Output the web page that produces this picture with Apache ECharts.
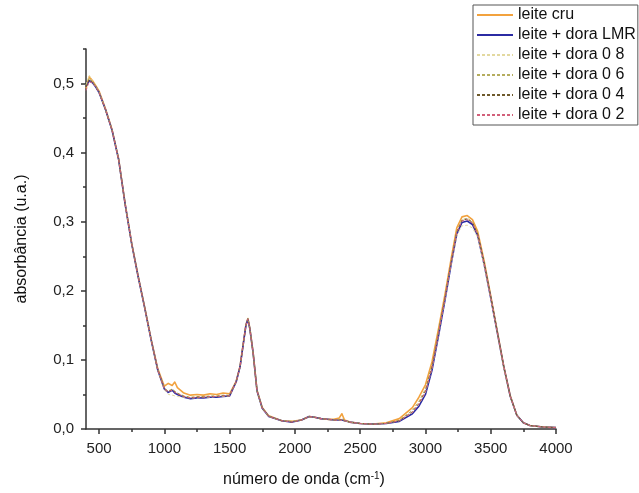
<!DOCTYPE html>
<html>
<head>
<meta charset="utf-8">
<script src="https://cdn.jsdelivr.net/npm/echarts@6/dist/echarts.min.js"></script>
<style>
  html, body { margin: 0; padding: 0; background: #fff; }
  #box { width: 639px; height: 493px; }
</style>
</head>
<body>
<div id="box"></div>
<script>
// número de onda (cm-1)
const aWave = [
    400, 425, 450, 475, 500,
    550, 600, 650, 700, 750, 800, 850, 900, 950,
    1000, 1030, 1060, 1080, 1100,
    1150, 1200, 1250, 1300, 1350, 1400, 1450, 1500,
    1550, 1580, 1610, 1625, 1640, 1655, 1680, 1710, 1750, 1800,
    1900, 1980, 2050, 2110, 2150, 2200, 2250, 2300, 2340, 2360, 2380, 2420,
    2500, 2600, 2700, 2800, 2900, 2950, 3000, 3050, 3100, 3150, 3200, 3240,
    3280, 3320, 3360, 3400, 3450, 3500, 3550, 3600, 3650, 3700, 3750, 3800, 3900, 4000,
];

const aCru = [
    0.493, 0.510, 0.504, 0.497, 0.489,
    0.463, 0.433, 0.391, 0.326, 0.269, 0.221, 0.176, 0.129, 0.087,
    0.062, 0.066, 0.063, 0.068, 0.060,
    0.052, 0.049, 0.050, 0.049, 0.051, 0.050, 0.052, 0.051,
    0.069, 0.091, 0.131, 0.151, 0.160, 0.146, 0.111, 0.056, 0.031, 0.019,
    0.012, 0.011, 0.013, 0.018, 0.017, 0.015, 0.014, 0.014, 0.016, 0.022, 0.013, 0.010,
    0.008, 0.007, 0.009, 0.015, 0.031, 0.046, 0.064, 0.097, 0.145, 0.195, 0.250, 0.291,
    0.307, 0.309, 0.303, 0.286, 0.243, 0.193, 0.142, 0.091, 0.048, 0.020, 0.009, 0.005, 0.003, 0.002,
];
const aLMR = [
    0.496, 0.504, 0.501, 0.495, 0.487,
    0.462, 0.432, 0.390, 0.325, 0.268, 0.220, 0.175, 0.128, 0.085,
    0.058, 0.053, 0.056, 0.052, 0.050,
    0.046, 0.044, 0.045, 0.045, 0.046, 0.046, 0.047, 0.048,
    0.068, 0.090, 0.130, 0.150, 0.159, 0.145, 0.110, 0.055, 0.030, 0.018,
    0.012, 0.010, 0.013, 0.018, 0.017, 0.015, 0.014, 0.013, 0.013, 0.013, 0.012, 0.010,
    0.008, 0.007, 0.008, 0.011, 0.022, 0.033, 0.050, 0.085, 0.135, 0.187, 0.242, 0.282,
    0.299, 0.301, 0.296, 0.280, 0.238, 0.190, 0.140, 0.090, 0.047, 0.020, 0.009, 0.005, 0.003, 0.002,
];
const aDora08 = [
    0.498, 0.512, 0.503, 0.496, 0.488,
    0.462, 0.432, 0.390, 0.325, 0.268, 0.220, 0.175, 0.128, 0.085,
    0.057, 0.050, 0.049, 0.048, 0.047,
    0.046, 0.045, 0.045, 0.046, 0.046, 0.047, 0.047, 0.048,
    0.068, 0.090, 0.130, 0.150, 0.159, 0.145, 0.110, 0.055, 0.030, 0.018,
    0.012, 0.011, 0.013, 0.018, 0.017, 0.015, 0.014, 0.013, 0.013, 0.013, 0.012, 0.010,
    0.008, 0.007, 0.008, 0.012, 0.024, 0.036, 0.053, 0.088, 0.137, 0.188, 0.242, 0.280,
    0.294, 0.295, 0.291, 0.277, 0.236, 0.189, 0.139, 0.089, 0.047, 0.020, 0.009, 0.005, 0.003, 0.002,
];
const aDora06 = [
    0.497, 0.508, 0.503, 0.496, 0.488,
    0.462, 0.433, 0.390, 0.326, 0.268, 0.220, 0.175, 0.128, 0.086,
    0.059, 0.055, 0.058, 0.055, 0.052,
    0.048, 0.046, 0.047, 0.047, 0.048, 0.048, 0.049, 0.049,
    0.068, 0.090, 0.131, 0.151, 0.160, 0.145, 0.110, 0.055, 0.030, 0.018,
    0.012, 0.011, 0.013, 0.018, 0.017, 0.015, 0.014, 0.013, 0.014, 0.015, 0.012, 0.010,
    0.008, 0.007, 0.008, 0.013, 0.027, 0.040, 0.058, 0.092, 0.141, 0.191, 0.246, 0.286,
    0.303, 0.305, 0.300, 0.283, 0.241, 0.192, 0.141, 0.090, 0.047, 0.020, 0.009, 0.005, 0.003, 0.002,
];
const aDora04 = [
    0.495, 0.506, 0.502, 0.495, 0.487,
    0.461, 0.432, 0.390, 0.325, 0.268, 0.220, 0.175, 0.128, 0.085,
    0.058, 0.054, 0.057, 0.054, 0.051,
    0.047, 0.045, 0.046, 0.046, 0.047, 0.047, 0.048, 0.048,
    0.068, 0.090, 0.130, 0.150, 0.159, 0.145, 0.110, 0.055, 0.030, 0.018,
    0.012, 0.010, 0.013, 0.018, 0.017, 0.015, 0.014, 0.013, 0.013, 0.014, 0.012, 0.010,
    0.008, 0.007, 0.008, 0.012, 0.025, 0.037, 0.055, 0.090, 0.139, 0.190, 0.245, 0.285,
    0.302, 0.304, 0.299, 0.282, 0.240, 0.191, 0.141, 0.090, 0.047, 0.020, 0.009, 0.005, 0.003, 0.002,
];
const aDora02 = [
    0.490, 0.503, 0.501, 0.495, 0.487,
    0.462, 0.432, 0.390, 0.325, 0.268, 0.220, 0.175, 0.128, 0.085,
    0.058, 0.054, 0.056, 0.053, 0.051,
    0.047, 0.045, 0.046, 0.046, 0.047, 0.047, 0.048, 0.048,
    0.068, 0.090, 0.130, 0.150, 0.159, 0.145, 0.110, 0.055, 0.030, 0.018,
    0.012, 0.010, 0.013, 0.018, 0.017, 0.015, 0.014, 0.013, 0.013, 0.013, 0.012, 0.010,
    0.008, 0.007, 0.008, 0.012, 0.024, 0.036, 0.054, 0.088, 0.138, 0.189, 0.244, 0.284,
    0.301, 0.303, 0.298, 0.281, 0.239, 0.190, 0.140, 0.090, 0.047, 0.020, 0.009, 0.005, 0.003, 0.002,
];

const aNames = ['leite cru', 'leite + dora LMR', 'leite + dora 0 8', 'leite + dora 0 6', 'leite + dora 0 4', 'leite + dora 0 2'];
const aValues = [aCru, aLMR, aDora08, aDora06, aDora04, aDora02];

const aXTicks = [500, 1000, 1500, 2000, 2500, 3000, 3500, 4000];
const aXMinor = [750, 1250, 1750, 2250, 2750, 3250, 3750];
const aYTicks = [0, 0.1, 0.2, 0.3, 0.4, 0.5];
const aYMinor = [0.05, 0.15, 0.25, 0.35, 0.45, 0.55];

const aColors = ['#f2a23e', '#2b2ba3', '#e3d9a0', '#b5ad5e', '#6e5a2c', '#d2607a'];
const aLineType = ['solid', 'solid', [3, 2], [3, 2], [3, 2], [3, 2]];
const aLineWidth = [1.6, 1.6, 1, 1, 1, 1];

const sFont = '"Liberation Sans", Arial, sans-serif';
const sAxisColor = '#333';

const oBox = document.getElementById('box');
const myChart = echarts.init(oBox, null, { renderer: 'canvas' });

const aSeries = aNames.map((name, i) => ({
    name,
    type: 'line',
    xAxisIndex: 0,
    yAxisIndex: 0,
    showSymbol: false,
    symbol: 'none',
    smooth: false,
    animation: false,
    lineStyle: { color: aColors[i], width: aLineWidth[i], type: aLineType[i], join: 'round' },
    itemStyle: { color: aColors[i] },
    data: aWave.map((w, k) => [w, aValues[i][k]]),
}));

// eixo "fantasma" só para os traços menores
const oMinorAxis = (aTicks, extra) => ({
    type: 'value',
    ...extra,
    axisLine: { show: true, lineStyle: { color: sAxisColor, opacity: 0 } },
    axisTick: { show: true, length: 3, customValues: aTicks, lineStyle: { color: sAxisColor, width: 1.5, opacity: 1 } },
    axisLabel: { show: false },
    splitLine: { show: false },
});

const option = {
    backgroundColor: '#fff',
    animation: false,
    textStyle: { fontFamily: sFont },
    grid: { left: 86, right: 83, top: 49, bottom: 64, containLabel: false },
    legend: {
        data: aNames,
        orient: 'vertical',
        left: 473,
        top: 5,
        padding: [2, 2, 2, 3],
        borderColor: '#555',
        borderWidth: 1,
        itemWidth: 36,
        itemHeight: 14,
        itemGap: 4,
        align: 'left',
        itemStyle: { opacity: 0 },
        textStyle: { fontSize: 16, lineHeight: 14, color: '#111', fontFamily: sFont },
    },
    xAxis: [{
        type: 'value',
        position: 'bottom',
        min: 400,
        max: 4000,
        name: '{n|número de onda (cm}{s|-1}{n|)}',
        nameLocation: 'middle',
        nameGap: 42,
        nameTextStyle: {
            padding: [0, 34, 0, 0],
            rich: {
                n: { fontSize: 16, color: '#111', fontFamily: sFont },
                s: { fontSize: 10, color: '#111', fontFamily: sFont, verticalAlign: 'top', padding: [0, 0, 8, 0] },
            },
        },
        axisLine: { show: true, lineStyle: { color: sAxisColor, width: 1.5 } },
        axisTick: { show: true, length: 5, customValues: aXTicks, lineStyle: { color: sAxisColor, width: 1.5 } },
        axisLabel: { customValues: aXTicks, fontSize: 15, color: '#222', margin: 12, fontFamily: sFont, formatter: v => String(v) },
        splitLine: { show: false },
    }, oMinorAxis(aXMinor, { position: 'bottom', min: 400, max: 4000 })],
    yAxis: [{
        type: 'value',
        position: 'left',
        min: 0,
        max: 0.55,
        name: 'absorbância (u.a.)',
        nameLocation: 'middle',
        nameGap: 56,
        nameTextStyle: { fontSize: 16, color: '#111', fontFamily: sFont },
        axisLine: { show: true, lineStyle: { color: sAxisColor, width: 1.5 } },
        axisTick: { show: true, length: 5, customValues: aYTicks, lineStyle: { color: sAxisColor, width: 1.5 } },
        axisLabel: {
            customValues: aYTicks,
            fontSize: 15,
            color: '#222',
            margin: 12,
            fontFamily: sFont,
            formatter: v => v.toFixed(1).replace('.', ','),
        },
        splitLine: { show: false },
    }, oMinorAxis(aYMinor, { position: 'left', min: 0, max: 0.55 })],
    series: aSeries,
};
myChart.setOption(option);
</script>
</body>
</html>
